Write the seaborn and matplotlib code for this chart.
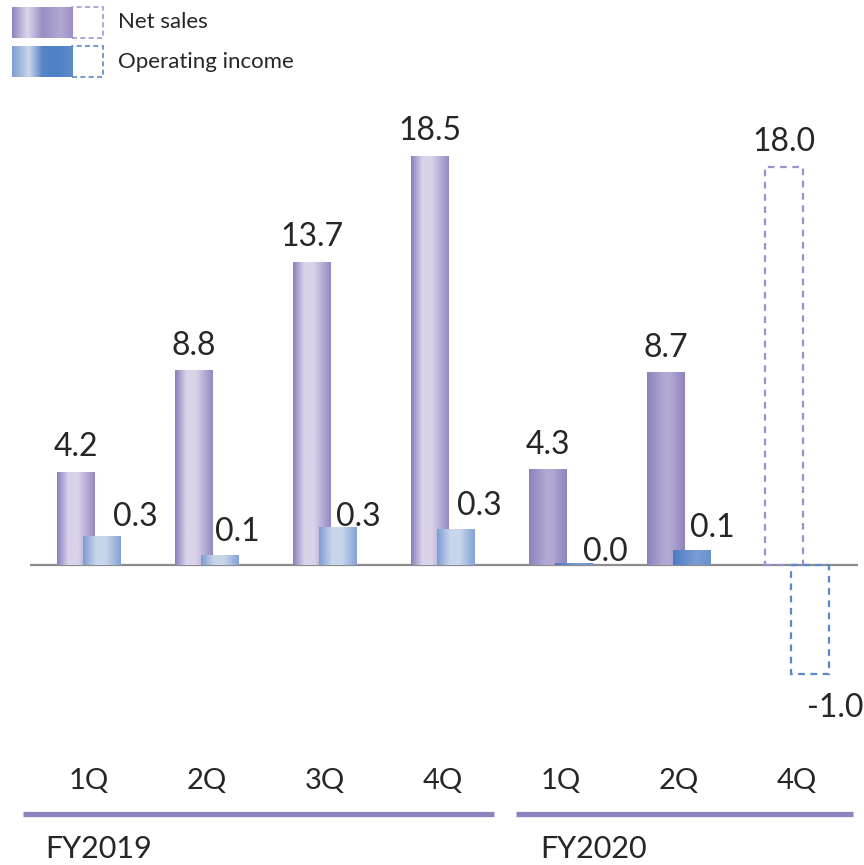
import numpy as np
import pandas as pd
import matplotlib
matplotlib.use("Agg")
import matplotlib.pyplot as plt
import matplotlib.transforms as mtransforms
from matplotlib.colors import LinearSegmentedColormap
from matplotlib.patches import Rectangle
import seaborn as sns

# ---------------- data ----------------
quarters = ["1Q", "2Q", "3Q", "4Q", "1Q", "2Q", "4Q"]
fiscal_years = ["FY2019", "FY2019", "FY2019", "FY2019", "FY2020", "FY2020", "FY2020"]
net_sales = [4.2, 8.8, 13.7, 18.5, 4.3, 8.7, 18.0]
op_income = [0.26, 0.09, 0.34, 0.33, 0.01, 0.13, -1.0]
forecast = [False, False, False, False, False, False, True]
series_names = ["Net sales", "Operating income"]

# ---------------- layout ----------------
W, H = 864, 865
GROUP_PX = 118.0      # px per group
X0_PX = 89.0          # px of first group centre
ZERO_PX = 565.0       # px of zero line
NS_PX = 22.1          # px per unit net sales
OI_PX = 109.0         # px per unit operating income
BAR_W = 0.322
SHIFT = 0.110
FONT = "Lato"
TXT = "#262626"

sns.set_theme(style="white")
plt.rcParams["font.family"] = [FONT, "DejaVu Sans"]

df = pd.DataFrame({
    "quarter": quarters, "fy": fiscal_years,
    "net_sales": net_sales, "op_income": op_income, "forecast": forecast,
})
df["idx"] = np.arange(len(df))
df["ns_x"] = df["idx"] - SHIFT
df["oi_x"] = df["idx"] + SHIFT

fig = plt.figure(figsize=(W / 100, H / 100), dpi=100)
ax = fig.add_axes([0, 0, 1, 1])
ax2 = ax.twinx()
ax2.set_position([0, 0, 1, 1])

sns.barplot(data=df, x="ns_x", y="net_sales", native_scale=True, width=BAR_W,
            errorbar=None, ax=ax, color="#9a8ec4", zorder=3)
sns.barplot(data=df, x="oi_x", y="op_income", native_scale=True, width=BAR_W,
            errorbar=None, ax=ax2, color="#7d9ed3", zorder=3)

xlim = (-X0_PX / GROUP_PX, (W - X0_PX) / GROUP_PX)
ylim1 = ((ZERO_PX - H) / NS_PX, ZERO_PX / NS_PX)
ylim2 = ((ZERO_PX - H) / OI_PX, ZERO_PX / OI_PX)


def cmap(stops):
    return LinearSegmentedColormap.from_list("g", stops)


cm_ns19 = cmap([(0, "#8b7ebb"), (0.3, "#d9d3ea"), (0.55, "#d9d3ea"), (1, "#9587c2")])
cm_ns20 = cmap([(0, "#8d81bc"), (0.45, "#b3a9d3"), (0.6, "#b3a9d3"), (1, "#8f83bd")])
cm_oi19 = cmap([(0, "#7c9dd3"), (0.35, "#c9d5ea"), (0.6, "#c9d5ea"), (1, "#83a2d5")])
cm_oi20 = cmap([(0, "#4a7bc3"), (0.6, "#7b9dd4"), (1, "#6a91cd")])
grad = np.linspace(0, 1, 256).reshape(1, -1)


def paint(axis, patches, cmaps, dashed_color):
    for p, cm_, fc in zip(patches, cmaps, forecast):
        x0, y0, w, h = p.get_x(), p.get_y(), p.get_width(), p.get_height()
        if fc:
            p.set_facecolor("none")
            p.set_edgecolor(dashed_color)
            p.set_linestyle((0, (3, 2.5)))
            p.set_linewidth(1.6)
        else:
            p.set_facecolor("none")
            p.set_edgecolor("none")
            axis.imshow(grad, cmap=cm_, extent=[x0, x0 + w, y0, y0 + h],
                        aspect="auto", interpolation="bilinear", zorder=3)


ns_cmaps = [cm_ns19 if f == "FY2019" else cm_ns20 for f in fiscal_years]
oi_cmaps = [cm_oi19 if f == "FY2019" else cm_oi20 for f in fiscal_years]
paint(ax, ax.patches, ns_cmaps, "#9d91c9")
paint(ax2, ax2.patches, oi_cmaps, "#5b87c9")

# zero line
ax.hlines(0, (30 - X0_PX) / GROUP_PX, (858 - X0_PX) / GROUP_PX,
          color="#8c8c8c", lw=1.6, zorder=2)

# value labels: net sales
for p, v in zip(ax.patches, net_sales):
    ax.annotate(f"{v:.1f}", xy=(p.get_x() + p.get_width() / 2, v),
                xytext=(0, 11.5), textcoords="offset points",
                ha="center", va="baseline", fontsize=23, color=TXT, zorder=5)

# value labels: operating income (px nudges from picture)
oi_dx = [33, 17, 20, 23, 31, 20, 25]
oi_dy = [11, 14, 2, 14, 3, 14, -43]
for p, v, dx, dy in zip(ax2.patches, op_income, oi_dx, oi_dy):
    ax2.annotate(f"{v:.1f}", xy=(p.get_x() + p.get_width() / 2, v),
                 xytext=(dx * 0.72, dy * 0.72), textcoords="offset points",
                 ha="center", va="baseline", fontsize=23, color=TXT, zorder=5)

# category labels
blend = mtransforms.blended_transform_factory(ax.transData, ax.transAxes)
for i, q in enumerate(quarters):
    ax.text(i, 1 - 789 / H, q, transform=blend, ha="center", va="baseline",
            fontsize=21, color=TXT)


def fx(px):
    return px / W


def fy(py):
    return 1 - py / H


# fiscal year bars and labels
fy_spans = {"FY2019": (23, 494, 45), "FY2020": (516, 853, 540)}
for name, (a, b, tx) in fy_spans.items():
    ax.plot([fx(a), fx(b)], [fy(814), fy(814)], transform=ax.transAxes,
            color="#8f84c0", lw=3.8, solid_capstyle="butt", clip_on=False)
    ax.text(fx(tx), fy(858), name, transform=ax.transAxes, ha="left",
            va="baseline", fontsize=22, color=TXT)

# legend
leg_cm = [cmap([(0, "#8f83bd"), (0.25, "#dcd6ea"), (0.5, "#9a8ec4"), (0.8, "#b2a8d2"), (1, "#9b8fc6")]),
          cmap([(0, "#7c9dd3"), (0.28, "#cad6eb"), (0.5, "#5584c7"), (0.75, "#4f80c5"), (1, "#5f8bca")])]
leg_dash = ["#a598cd", "#5b87c9"]
leg_y = [(7, 38), (46, 77)]
for name, cm_, dc, (y0, y1) in zip(series_names, leg_cm, leg_dash, leg_y):
    sax = fig.add_axes([fx(12), fy(y1), fx(72) - fx(12), fy(y0) - fy(y1)])
    sax.imshow(grad, cmap=cm_, aspect="auto", interpolation="bilinear")
    sax.set_axis_off()
    ax.add_patch(Rectangle((fx(72), fy(y1)), fx(103) - fx(72), fy(y0) - fy(y1),
                           transform=ax.transAxes, facecolor="none", edgecolor=dc,
                           linestyle=(0, (3, 2)), lw=1.2, clip_on=False))
    ax.text(fx(118), fy((y0 + y1) / 2), name, transform=ax.transAxes,
            ha="left", va="center", fontsize=16, color=TXT)

for a in (ax, ax2):
    a.set_xlim(*xlim)
    a.set_axis_off()
ax.set_ylim(*ylim1)
ax2.set_ylim(*ylim2)

fig.savefig("out.png", dpi=100)
